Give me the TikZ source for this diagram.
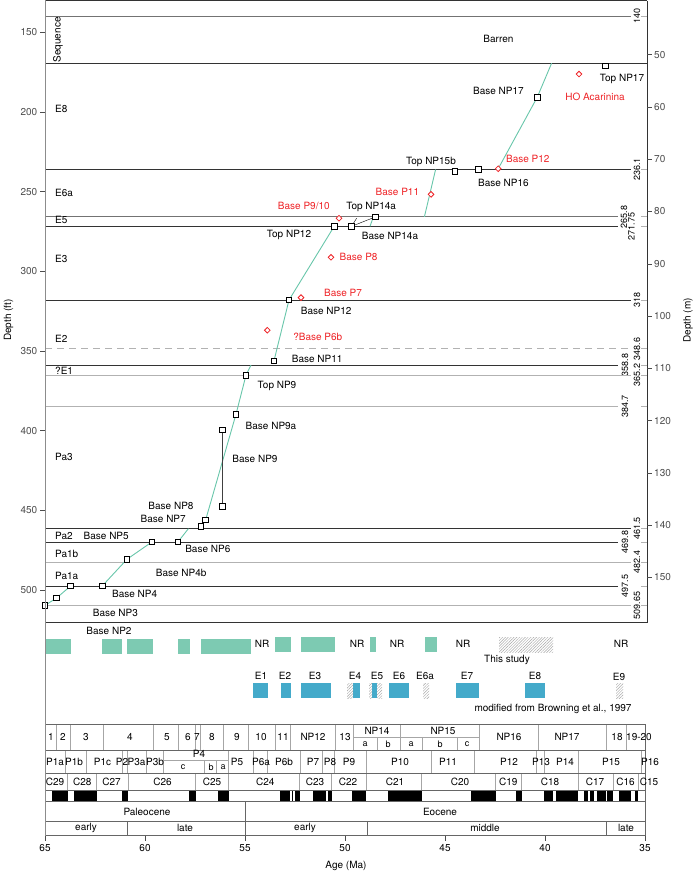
\documentclass[tikz,border=0pt]{standalone}
\usepackage{fontspec}
\setmainfont{TeX Gyre Heros}
\usetikzlibrary{calc,positioning,patterns,patterns.meta,shapes.geometric}

\definecolor{agemodel}{RGB}{104,198,170}
\definecolor{studybar}{RGB}{125,202,178}
\definecolor{browbar}{RGB}{68,170,202}
\definecolor{foram}{RGB}{238,34,38}

\tikzset{
  nanno/.style={rectangle, draw=black, fill=white, line width=0.8pt, minimum size=5.6pt, inner sep=0pt},
  pf/.style={diamond, draw=foram, fill=white, line width=0.8pt, minimum size=6pt, inner sep=0pt},
  agemod/.style={agemodel, line width=0.9pt},
  dk/.style={black!80, line width=0.7pt},
  md/.style={black!55, line width=0.7pt},
  lt/.style={black!30, line width=0.7pt},
  depthlab/.style={rotate=90, inner sep=0pt, font=\fontsize{9}{10}\selectfont},
  redlab/.style={text=foram},
  hatch/.style={pattern={Lines[angle=45, distance=2pt, line width=0.45pt]}, pattern color=black!35},
  zone/.style={black!35, line width=0.5pt},
  rowline/.style={black!60, line width=0.6pt},
  sublab/.style={font=\fontsize{9}{10}\selectfont}
}

\begin{document}
\begin{tikzpicture}[x=1pt, y=-1pt, font=\fontsize{10}{12}\selectfont]
\useasboundingbox (0,0) rectangle (695,874);

% core plot: x = age (Ma), y = depth (ft)
\begin{scope}[x={(-20pt,0pt)}, y={(0pt,-1.5934pt)}, shift={(1345pt,206.7pt)}]
  \draw[dk] (65,130.2) -- (34.9,130.2);
  \draw[dk] (34.9,130.2) -- (34.9,520.3) -- (65,520.3);
  \draw[dk] (65,169.4) -- (34.9,169.4);

  % sequence boundaries
  \foreach \d/\s/\e/\l in {140/md/35.7/35.4, 236.1/dk/35.7/35.4, 265.8/md/36.35/36.05,
      271.75/dk/36.35/35.68, 318/dk/35.7/35.4, 358.8/dk/36.35/36.0, 365.2/lt/35.7/35.4,
      384.7/lt/36.35/36.0, 461.5/dk/35.7/35.4, 469.8/dk/36.35/36.0, 482.4/lt/35.7/35.4,
      497.5/dk/36.35/36.0, 509.65/lt/35.7/35.4}
  {
    \draw[\s] (65,\d) -- (\e,\d);
    \draw[lt] (35.2,\d) -- (34.9,\d);
    \node[depthlab] (bd\d) at (\l,\d) {\d};
  }
  \draw[lt, dash pattern=on 7pt off 5pt] (65,348.6) -- (35.7,348.6);
  \draw[lt] (35.2,348.6) -- (34.9,348.6);
  \node[depthlab] (bdP6b) at (35.4,348.6) {348.6};

  % axes
  \foreach \d in {150,200,...,500}
    \draw[black!70] (65,\d) -- ++(-5pt,0pt) node[left, inner sep=2.5pt] (ft\d) {\d};
  \foreach \m in {50,60,...,150}
    \draw[black!70] (34.9,{\m*3.28084}) -- ++(5pt,0pt) node[right, inner sep=2pt] (m\m) {\m};

  % sequences
  \node[rotate=90] (seqlab) at (64.35,154.8) {Sequence};
  \foreach \t/\d [count=\i] in {E8/198.1, E6a/250.8, E5/267.7, E3/292.1, E2/342.5, ?E1/362.5,
      Pa3/416.5, Pa2/466.1, Pa1b/477.4, Pa1a/491.2}
    \node[right, inner sep=0pt] (seq\i) at (64.5,\d) {\t};
  \node (barren) at (42.33,154.2) {Barren};

  % datums
  \coordinate (tNP17) at (36.97,171);
  \coordinate (bNP17) at (40.39,190.8);
  \coordinate (bNP16) at (43.34,236.1);
  \coordinate (tNP15b) at (44.5,237.2);
  \coordinate (tNP14a) at (48.47,265.8);
  \coordinate (bNP14a) at (49.67,271.75);
  \coordinate (tNP12) at (50.54,271.75);
  \coordinate (bNP12) at (52.8,318);
  \coordinate (bNP11) at (53.55,356.1);
  \coordinate (tNP9) at (54.95,365.2);
  \coordinate (bNP9a) at (55.45,389.7);
  \coordinate (bNP9hi) at (56.14,399.6);
  \coordinate (bNP9lo) at (56.14,447.7);
  \coordinate (bNP8) at (56.97,456.1);
  \coordinate (bNP7) at (57.2,459.9);
  \coordinate (bNP6) at (58.35,469.8);
  \coordinate (bNP5) at (59.65,469.8);
  \coordinate (bNP4b) at (60.9,480.7);
  \coordinate (bNP4) at (62.14,497.5);
  \coordinate (np4r) at (63.72,497.5);
  \coordinate (np3) at (64.42,505.0);
  \coordinate (np2) at (65.0,509.65);

  \coordinate (hoAca) at (38.3,176.2);
  \coordinate (bP12) at (42.34,235.6);
  \coordinate (bP11) at (45.7,251.7);
  \coordinate (bP910) at (50.3,266.7);
  \coordinate (bP8) at (50.7,291.2);
  \coordinate (bP7) at (52.2,316.5);
  \coordinate (bP6b) at (53.885,337.0);

  \coordinate (fit1) at (39.67,169.4);
  \coordinate (fit2a) at (45.47,236.1);
  \coordinate (fit2b) at (46.03,265.8);
  \coordinate (fit3a) at (48.58,265.8);
  \coordinate (fit3b) at (48.75,271.75);
  \coordinate (fit4) at (54.7,358.8);
  \coordinate (fit5) at (57.83,461.5);
  \coordinate (ptr) at (49.42,266.7);

  % age model
  \draw[agemod] (fit1) -- (bNP17) -- (bP12);
  \draw[agemod] (fit2a) -- (fit2b);
  \draw[agemod] (fit3a) -- (fit3b);
  \draw[agemod] (tNP12) -- (bNP12) -- (bNP11);
  \draw[agemod] (fit4) -- (tNP9) -- (bNP9a) -- (bNP8);
  \draw[agemod] (fit5) -- (bNP6);
  \draw[agemod] (bNP5) -- (bNP4b) -- (bNP4);
  \draw[agemod] (np4r) -- (np3) -- (np2);

  \draw[black!75] (bNP9hi) -- (bNP9lo);
  \draw[black] (ptr) -- (bNP14a) -- (tNP14a);

  \foreach \c in {tNP17,bNP17,bNP16,tNP15b,tNP14a,bNP14a,tNP12,bNP12,bNP11,tNP9,bNP9a,
      bNP9hi,bNP9lo,bNP8,bNP7,bNP6,bNP5,bNP4b,bNP4,np4r,np3,np2}
    \node[nanno] (sq-\c) at (\c) {};
  \foreach \c in {hoAca,bP12,bP11,bP910,bP8,bP7,bP6b}
    \node[pf] (dm-\c) at (\c) {};

  % labels
  \foreach \a/\d/\t [count=\i] in {36.15/179.3/Top NP17, 42.33/186.6/Base NP17, 42.08/244.7/Base NP16,
      45.7/231.6/Top NP15b, 48.69/259.4/Top NP14a, 47.75/277.6/Base NP14a, 52.8/277.4/Top NP12,
      50.94/325.1/Base NP12, 51.39/354.8/Base NP11, 53.4/372.2/Top NP9, 53.7/397.1/Base NP9a,
      54.5/417.8/Base NP9, 58.7/447.3/Base NP8, 59.09/455.6/Base NP7, 56.86/474.4/Base NP6,
      61.94/465.9/Base NP5, 58.19/489.1/Base NP4b, 60.52/502.7/Base NP4, 61.48/514.2/Base NP3}
    \node (nl\i) at (\a,\d) {\t};
  \foreach \a/\d/\t [count=\i] in {37.5/190.6/HO Acarinina, 40.86/229.3/Base P12, 47.38/250.4/Base P11,
      52.06/258.8/{Base P9/10}, 49.32/290.9/Base P8, 50.1/313.4/Base P7, 51.36/341.4/?Base P6b}
    \node[redlab] (pl\i) at (\a,\d) {\t};
\end{scope}

% bars and time scale: x = age (Ma), y = pixel row
\begin{scope}[x={(-20pt,0pt)}, y={(0pt,-1pt)}, shift={(1345pt,0pt)}]
  \foreach \a/\b in {64.95/63.7, 62.15/61.14, 60.9/59.6, 58.37/57.75, 57.2/54.7}
    \fill[studybar] (\a,639) rectangle (\b,654);
  \foreach \a/\b in {53.5/52.7, 52.2/50.5, 48.75/48.47, 46.0/45.4}
    \fill[studybar] (\a,637) rectangle (\b,652);
  \fill[hatch] (42.3,637.3) rectangle (39.6,652.3);
  \foreach \a [count=\i] in {54.15,49.4,47.4,44.1,36.2}
    \node (nr\i) at (\a,643.7) {NR};
  \node (np2lab) at (61.8,631.3) {Base NP2};
  \node (thisstudy) at (41.9,660.3) {This study};

  \foreach \a/\b in {54.6/53.85, 53.2/52.7, 52.2/50.7, 49.6/49.25, 48.65/48.4, 47.8/46.8,
      44.45/43.3, 41.0/40.0}
    \fill[browbar] (\a,683.3) rectangle (\b,698.3);
  \foreach \a/\b in {49.9/49.6, 48.8/48.65, 48.4/48.15, 46.1/45.8, 36.45/36.1}
    \fill[hatch] (\a,683.3) rectangle (\b,698.3);
  \foreach \t/\a in {E1/54.2, E2/53.0, E3/51.5, E4/49.5, E5/48.4, E6/47.3, E6a/46.0, E7/43.9, E8/40.5}
    \node (br\t) at (\a,676.3) {\t};
  \node (brE9) at (36.3,677.3) {E9};
  \node (browning) at (39.6,709) {modified from Browning et al., 1997};

  % zones
  \foreach \a in {64.42,63.72,62.09,59.59,58.32,57.5,57.25,56.08,54.83,53.49,52.74,50.47,49.59,
      47.25,43.29,40.34,36.92,35.92}
    \draw[zone] (\a,724.3) -- (\a,750);
  \foreach \a in {48.39,46.14,44.37}
    \draw[zone] (\a,737.3) -- (\a,750);
  \draw[zone] (49.59,737.3) -- (43.29,737.3);
  \foreach \a in {63.99,62.92,61.12,60.87,59.95,59.09,55.82,54.59,53.87,52.25,51.12,50.54,48.92,
      45.7,43.54,40.42,40.04,38.34,35.2}
    \draw[zone] (\a,750) -- (\a,773.3);
  \foreach \a in {57.02,56.42}
    \draw[zone] (\a,760.7) -- (\a,773.3);
  \draw[zone] (59.09,760.7) -- (55.82,760.7);
  \foreach \a in {63.87,62.42,60.84,57.47,55.82,52.29,50.67,48.92,46.17,42.5,41.17,38.34,36.59,35.34}
    \draw[zone] (\a,773.3) -- (\a,790.7);
  \foreach \a/\b in {64.64/63.84, 63.54/62.42, 61.17/60.84, 57.8/57.47, 56.34/55.82, 53.25/52.75,
      52.65/52.59, 52.52/52.25, 51.62/50.95, 50.84/50.67, 49.64/48.97, 47.84/46.17, 43.72/42.47,
      41.47/41.17, 40.07/39.59, 39.47/38.34, 38.07/37.87, 37.75/37.54, 37.39/36.95, 36.89/36.59,
      36.29/35.7, 35.5/35.34}
    \fill[black] (\a,790.7) rectangle (\b,801.7);
  \draw[rowline] (55,801.7) -- (55,821.7);
  \foreach \a in {60.9,55,48.9,36.95}
    \draw[rowline] (\a,821.7) -- (\a,835.7);
  \foreach \y in {724.3,750,773.3,790.7,801.7,821.7,835.7}
    \draw[rowline] (65,\y) -- (35,\y);
  \draw[rowline] (35,724.3) -- (35,835.7);

  \foreach \t/\a in {1/64.7, 2/64.1, 3/62.96, 4/60.75, 5/58.9, 6/57.85, 7/57.4, 8/56.65, 9/55.4,
      10/54.2, 11/53.1, NP12/51.6, 13/50.0, NP16/41.8, NP17/38.9, 18/36.4, 19-20/35.3}
    \node (nz\t) at (\a,737.3) {\t};
  \node (nzNP14) at (48.4,730.7) {NP14};
  \node (nzNP15) at (45.1,730.7) {NP15};
  \foreach \t/\a [count=\i] in {a/49.0, b/47.85, a/46.7, b/45.25, c/43.9}
    \node[sublab] (nzs\i) at (\a,744.3) {\t};

  \foreach \t/\a in {P1a/64.5, P1b/63.55, P1c/62.12, P2/61.15, P3a/60.42, P3b/59.5, P5/55.4,
      P6a/54.2, P6b/53.05, P7/51.6, P8/50.75, P9/49.8, P10/47.25, P11/44.85, P12/41.8,
      P13/40.2, P14/39.0, P15/36.7, P16/34.75}
    \node (pz\t) at (\a,761.5) {\t};
  \node (pzP4) at (57.3,754.3) {P4};
  \foreach \t/\a in {c/58.1, b/56.7, a/56.1}
    \node[sublab] (pz4\t) at (\a,767.3) {\t};

  \foreach \t/\a in {C29/64.5, C28/63.14, C27/61.67, C26/59.12, C25/56.65, C24/53.99, C23/51.5,
      C22/49.85, C21/47.5, C20/44.25, C19/41.84, C18/39.75, C17/37.5, C16/35.97, C15/34.8}
    \node (ch\t) at (\a,781.7) {\t};

  \node (paleo) at (59.9,811.7) {Paleocene};
  \node (eoc) at (45.25,811.7) {Eocene};
  \foreach \t/\a [count=\i] in {early/62.95, late/58.0, early/52.0, middle/43.0, late/35.95}
    \node (sub\i) at (\a,828.3) {\t};

  \foreach \a in {65,60,...,35}
  {
    \draw[black!70] (\a,835.7) -- (\a,840.5);
    \node (age\a) at (\a,848.3) {\a};
  }
  \node (agelab) at (49.95,866.3) {Age (Ma)};
\end{scope}

\draw[black!45, line width=1.3pt] (45.5,0) -- (45.5,835.7);
\node[rotate=90] (ftlab) at (8.5,320) {Depth (ft)};
\node[rotate=90] (mlab) at (688,320.5) {Depth (m)};
\end{tikzpicture}
\end{document}
